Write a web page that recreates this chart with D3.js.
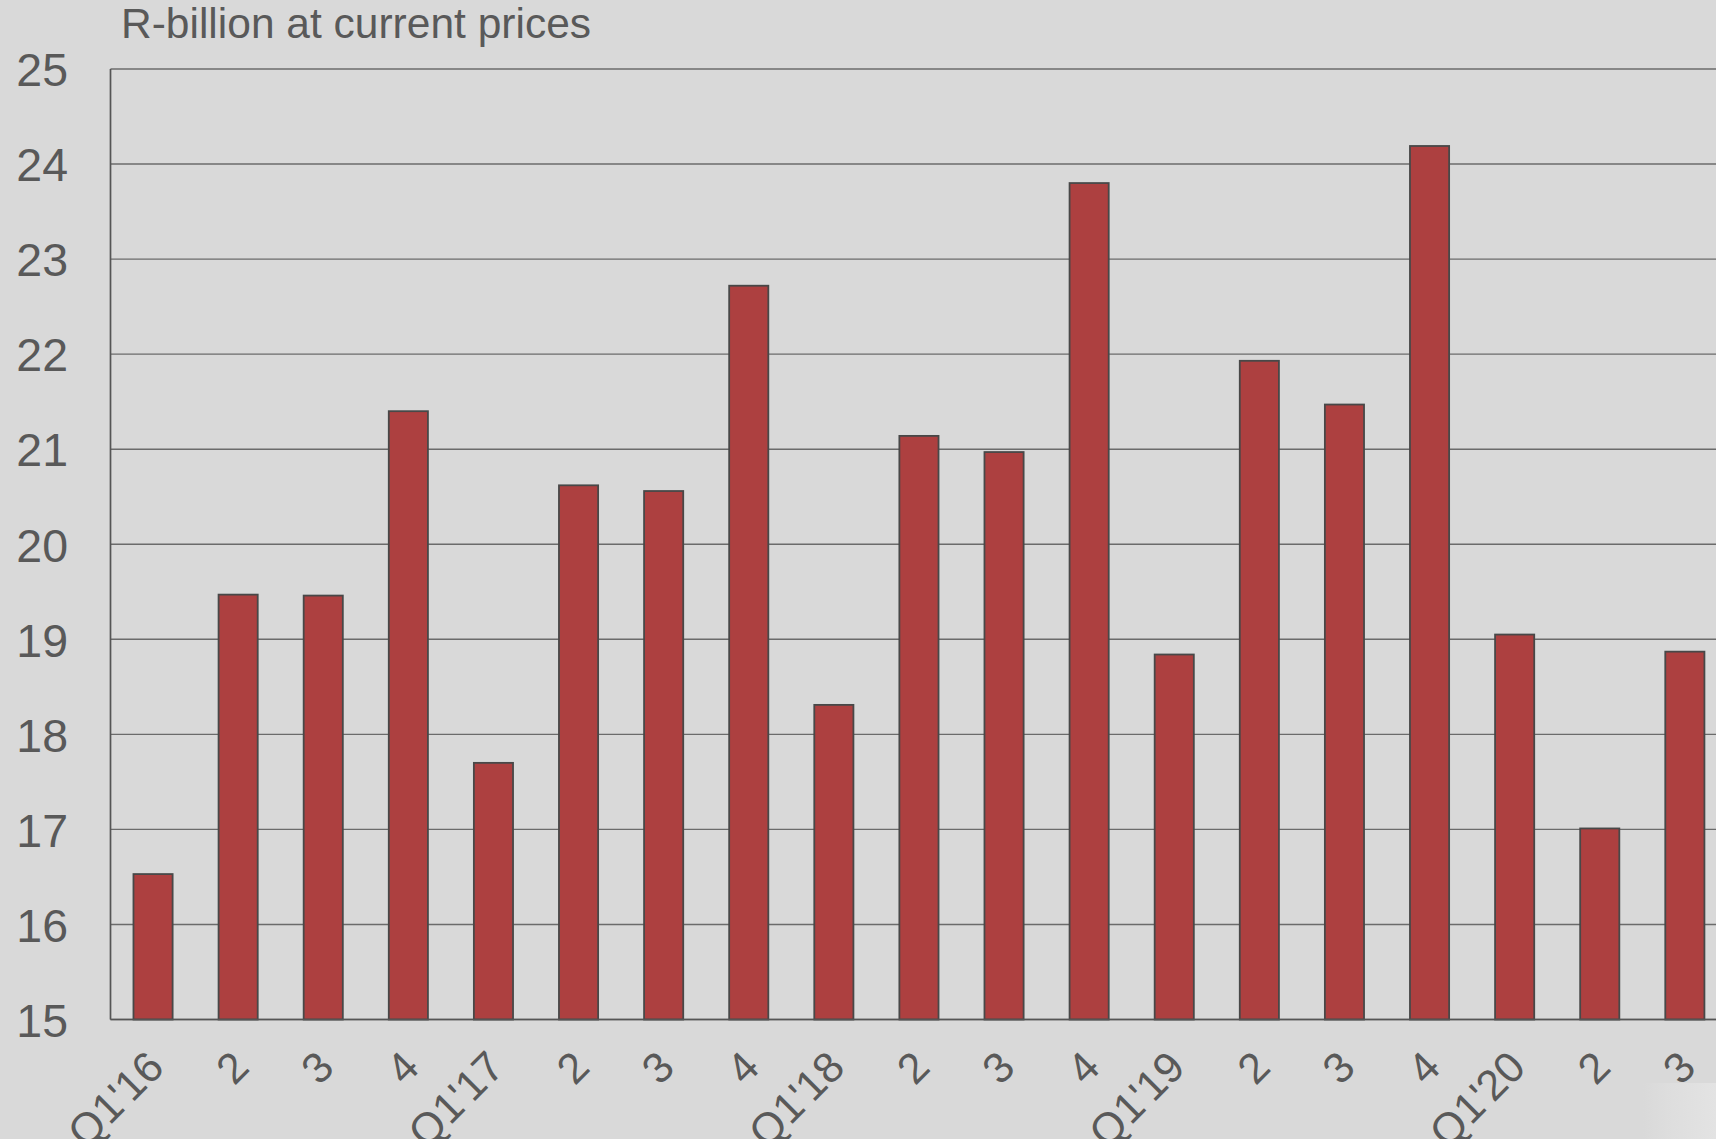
<!DOCTYPE html>
<html>
<head>
<meta charset="utf-8">
<script src="https://cdn.jsdelivr.net/npm/d3@7"></script>
<style>
  html, body { margin: 0; padding: 0; background: #d9d9d9; }
  svg { display: block; }
  text { font-family: "Liberation Sans", Arial, sans-serif; fill: #595959; }
</style>
</head>
<body>
<svg id="chart" width="1716" height="1139"></svg>
<script>
    var quarters = ["Q1'16", "2", "3", "4", "Q1'17", "2", "3", "4", "Q1'18", "2", "3", "4",
                    "Q1'19", "2", "3", "4", "Q1'20", "2", "3"];
    var values = [16.53, 19.47, 19.46, 21.40, 17.70, 20.62, 20.56, 22.72, 18.31, 21.14, 20.97, 23.80,
                  18.84, 21.93, 21.47, 24.19, 19.05, 17.01, 18.87];
    var yTicks = [15, 16, 17, 18, 19, 20, 21, 22, 23, 24, 25];
    var unitLabel = "R-billion at current prices";

    var width = 1716, height = 1139;
    var margin = {left: 110.5, top: 69, bottom: 1019.5};
    var step = 85.1;

    var svg = d3.select("#chart");

    var x = d3.scaleBand()
        .domain(d3.range(quarters.length))
        .range([margin.left, margin.left + step * quarters.length])
        .paddingInner(0.54)
        .paddingOuter(0.27);

    var y = d3.scaleLinear()
        .domain([15, 25])
        .range([margin.bottom, margin.top]);

    // faint lighter patch in the bottom right corner
    var defs = svg.append("defs");
    var grad = defs.append("linearGradient")
        .attr("id", "patch")
        .attr("x1", 0).attr("x2", 1).attr("y1", 0).attr("y2", 0);
    grad.append("stop").attr("offset", "0%").attr("stop-color", "#d9d9d9");
    grad.append("stop").attr("offset", "40%").attr("stop-color", "#dedede");
    grad.append("stop").attr("offset", "100%").attr("stop-color", "#e3e3e3");
    svg.append("rect")
        .attr("x", 1643).attr("y", 1083)
        .attr("width", width - 1643).attr("height", height - 1083)
        .attr("fill", "url(#patch)");

    // gridlines
    svg.append("g")
        .selectAll("line")
        .data(yTicks)
        .enter()
        .append("line")
        .attr("x1", margin.left)
        .attr("x2", width)
        .attr("y1", function(d){ return y(d); })
        .attr("y2", function(d){ return y(d); })
        .attr("stroke", "#6b6b6b")
        .attr("stroke-width", 1.4);

    // y axis labels
    var yAxis = d3.axisLeft(y).tickValues(yTicks).tickSize(0).tickPadding(0);
    var yg = svg.append("g")
        .attr("transform", "translate(68,0)")
        .call(yAxis);
    yg.select(".domain").remove();
    yg.selectAll("text")
        .attr("font-size", 46.5)
        .attr("font-family", "Liberation Sans, Arial, sans-serif")
        .attr("fill", "#595959")
        .attr("dy", "0.36em");

    // bars
    svg.append("g")
        .selectAll("rect")
        .data(values)
        .enter()
        .append("rect")
        .attr("x", function(d, i){ return x(i); })
        .attr("width", x.bandwidth())
        .attr("y", function(d){ return y(d); })
        .attr("height", function(d){ return y(15) - y(d); })
        .attr("fill", "#ad4040")
        .attr("stroke", "#484848")
        .attr("stroke-width", 1.8);

    // axis lines
    svg.append("line")
        .attr("x1", margin.left).attr("x2", margin.left)
        .attr("y1", y(25)).attr("y2", y(15))
        .attr("stroke", "#555").attr("stroke-width", 1.7);
    svg.append("line")
        .attr("x1", margin.left).attr("x2", width)
        .attr("y1", y(15)).attr("y2", y(15))
        .attr("stroke", "#555").attr("stroke-width", 1.7);

    // x labels, rotated
    svg.append("g")
        .selectAll("text")
        .data(quarters)
        .enter()
        .append("text")
        .attr("transform", function(d, i){
            var cx = x(i) + x.bandwidth() / 2 + 13;
            return "translate(" + cx + "," + (y(15) + 50) + ") rotate(-45)";
        })
        .attr("text-anchor", "end")
        .attr("font-size", 43)
        .text(function(d){ return d; });

    // unit label
    svg.append("text")
        .attr("x", 121)
        .attr("y", 38)
        .attr("font-size", 42.5)
        .text(unitLabel);
</script>
</body>
</html>
